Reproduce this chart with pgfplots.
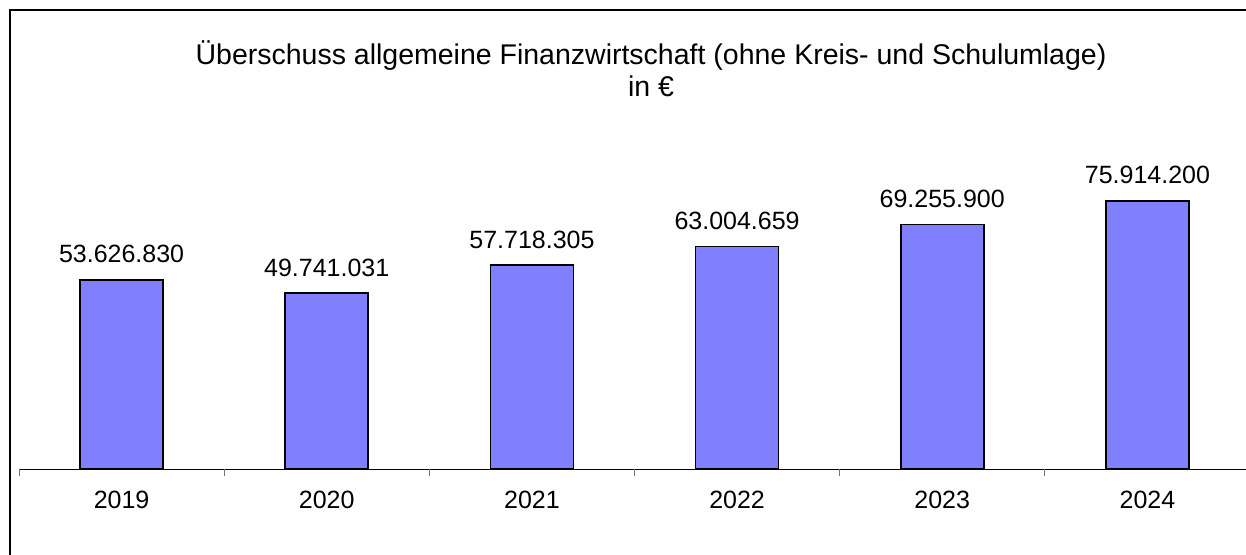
\documentclass[border=0pt]{standalone}
\usepackage{fontspec}
\setmainfont{Liberation Sans}
\usepackage{pgfplots}
\usepackage{pgfplotstable}
\pgfplotsset{compat=1.18}
\definecolor{barblue}{RGB}{128,128,255}
\pgfplotstableread{
x y label
0 53626830 53.626.830
1 49741031 49.741.031
2 57718305 57.718.305
3 63004659 63.004.659
4 69255900 69.255.900
5 75914200 75.914.200
}\datatable
\begin{document}
\begin{tikzpicture}
\fontsize{25bp}{30bp}\selectfont
\path[use as bounding box] (0,0) rectangle (1246bp,555bp);
\draw[line width=2bp] (10bp,-5bp) -- (10bp,545bp) -- (1260bp,545bp);
\node[anchor=base, font=\fontsize{28.5bp}{32bp}\selectfont] at (651bp,490bp) {Überschuss allgemeine Finanzwirtschaft (ohne Kreis- und Schulumlage)};
\node[anchor=base, font=\fontsize{28.5bp}{32bp}\selectfont] at (651bp,458bp) {in €};
\begin{axis}[
  at={(19bp,86bp)}, anchor=south west,
  scale only axis, width=1231bp, height=459bp,
  xmin=-0.5, xmax=5.5, ymin=0, ymax=130e6,
  axis x line*=bottom, axis y line=none,
  axis line style={line width=1bp, black},
  xtick={0,...,5}, xticklabels={2019,2020,2021,2022,2023,2024},
  major tick length=0pt,
  extra x ticks={-0.5,0.5,1.5,2.5,3.5,4.5,5.5},
  extra x tick labels={},
  extra x tick style={major tick length=7bp, tick align=outside, tick style={black!55, line width=1bp}},
  xticklabel style={anchor=base, yshift=-39bp, font=\fontsize{25bp}{30bp}\selectfont},
  ytick=\empty,
  ybar, bar width=83bp,
  point meta=explicit symbolic,
  nodes near coords,
  nodes near coords align={anchor=base},
  every node near coord/.append style={anchor=base, yshift=17bp, font=\fontsize{25bp}{30bp}\selectfont, inner sep=0pt},
  clip=false,
]
\addplot[fill=barblue, draw=black, line width=1.8bp] table[x=x, y=y, meta=label] {\datatable};
\end{axis}
\end{tikzpicture}
\end{document}
